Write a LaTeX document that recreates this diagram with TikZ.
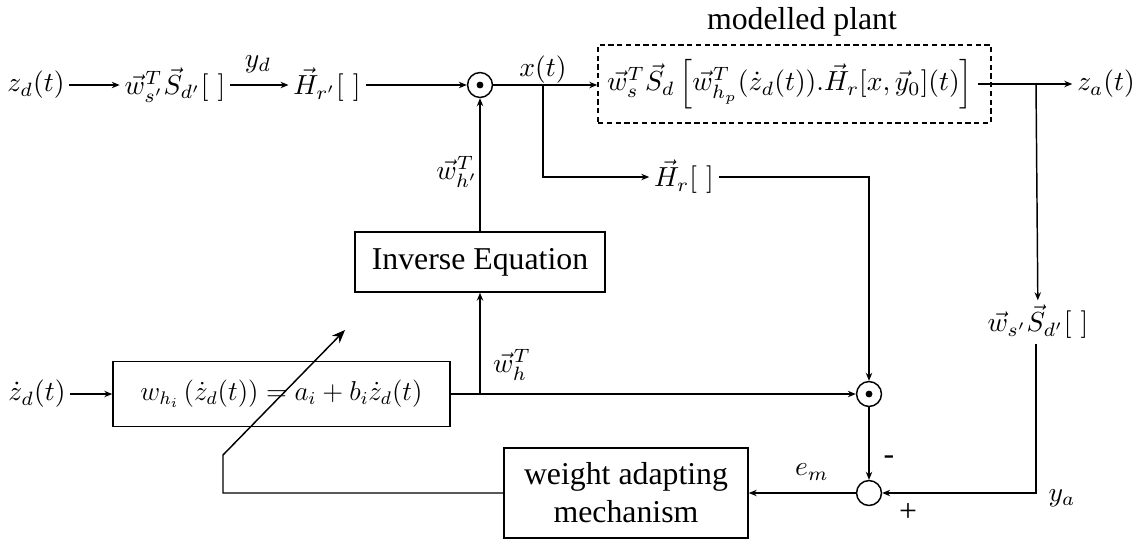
\documentclass[tikz,border=0pt]{standalone}
\usepackage[no-math]{fontspec}
\usepackage{graphicx}
\newfontfamily\tnr{Liberation Serif}
\newcommand{\mlab}[1]{\scalebox{1.04}{$#1$}}
\usetikzlibrary{arrows.meta}
\begin{document}
\begin{tikzpicture}[x=0.3774pt,y=-0.3774pt,
  line width=0.55pt,
  >={Stealth[length=3pt,width=2.4pt]},
  lbl/.style={inner sep=1.6pt},
  blk/.style={draw,inner sep=0pt,font=\tnr\fontsize{12}{14.3}\selectfont,align=center},
  op/.style={draw,circle,minimum size=9.4pt,inner sep=0pt},
  txt/.style={inner sep=0pt,font=\tnr\fontsize{12}{14.3}\selectfont},
  plantbox/.style={draw,dash pattern=on 2pt off 1.3pt,inner sep=0pt},
  bigarrow/.style={-{Stealth[length=5pt,width=4pt]}}]
\useasboundingbox (0,0) rectangle (1140,541);
% top row
\node[lbl] (zd) at (36,85) {\mlab{z_d(t)}};
\node[lbl] (ws1) at (175,85) {\mlab{\vec w_{s'}^T\vec S_{d'}[\ ]}};
\node[lbl] (yd) at (258,64) {\mlab{y_d}};
\node[lbl] (hr1) at (327,85) {\mlab{\vec H_{r'}[\ ]}};
\node[op] (m1) at (480,85) {};
\fill (m1.center) circle (1.3pt);
\node[lbl] (xt) at (543,70) {\mlab{x(t)}};
\coordinate (b1) at (543,85);
\node[plantbox,minimum width=148.3pt,minimum height=29.4pt] (pbox) at (794.5,84) {};
\node[lbl] (pf) at (790,84) {\mlab{\vec w_s^T\vec S_d\left[\vec w_{h_p}^T(\dot z_d(t)).\vec H_r[x,\vec y_0](t)\right]}};
\node[txt] (ptitle) at (802,22) {modelled plant};
\node[lbl] (za) at (1106,84) {\mlab{z_a(t)}};
\coordinate (b2) at (1036,84);
\node[lbl] (hr2) at (684,177) {\mlab{\vec H_r[\ ]}};
\node[lbl] (ws2) at (1038,322) {\mlab{\vec w_{s'}\vec S_{d'}[\ ]}};
% middle
\node[blk,minimum width=94.35pt,minimum height=22.6pt] (ibox) at (480,262) {Inverse Equation};
\node[lbl] (whpT) at (457,172) {\mlab{\vec w_{h'}^T}};
\node[lbl] (dzd) at (37,394) {\mlab{\dot z_d(t)}};
\node[blk,minimum width=127.2pt,minimum height=24.5pt] (fbox) at (281.5,394) {\scalebox{0.86}{$w_{h_i}\left(\dot z_d(t)\right)=a_i+b_i\dot z_d(t)$}};
\coordinate (b3) at (480,394);
\node[lbl] (whT) at (512,365) {\mlab{\vec w_h^T}};
\node[op] (m2) at (869,394) {};
\fill (m2.center) circle (1.3pt);
% bottom
\node[op] (sum) at (869,493) {};
\node[txt] (minus) at (889,460) {-};
\node[txt] (plus) at (908,513) {+};
\node[lbl] (ya) at (1062,498) {\mlab{y_a}};
\node[lbl] (em) at (812,472) {\mlab{e_m}};
\node[blk,minimum width=92.1pt,minimum height=34pt] (wbox) at (626,493) {weight adapting\\mechanism};
\coordinate (c1) at (223,493);
\coordinate (c2) at (223,455);
\coordinate (adj) at (345,330);
% connectors
\draw[->] (zd) -- (ws1);
\draw[->] (ws1) -- (hr1);
\draw[->] (hr1) -- (m1);
\draw[->] (m1.east) -- (m1.east -| pbox.west);
\draw[->] (b1) |- (hr2);
\draw[->] (pf.east) -- (za);
\draw[->] (b2) -- (ws2);
\draw[->] (hr2) -| (m2);
\draw[->] (b2 |- ws2.south) |- (sum.east);
\draw[->] (m2) -- (sum);
\draw[->] (sum) -- (wbox);
\draw[->] (dzd) -- (fbox);
\draw[->] (fbox.east) -- (m2.west);
\draw[->] (b3) -- (ibox);
\draw[->] (ibox) -- (m1);
\draw[bigarrow] (wbox.west) -- (c1) -- (c2) -- (adj);
\end{tikzpicture}
\end{document}
